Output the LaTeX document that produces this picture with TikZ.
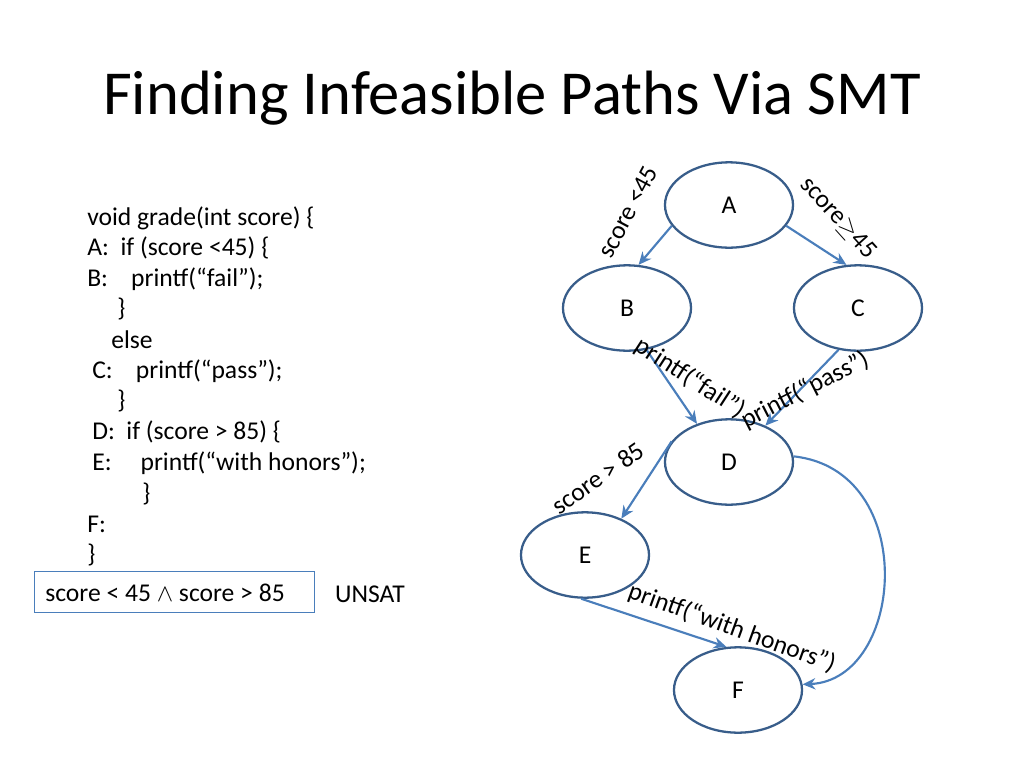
\documentclass[tikz,border=0pt]{standalone}
\usepackage{fontspec}
\setmainfont{Carlito}
\usetikzlibrary{shapes.geometric,arrows.meta}
\definecolor{eb}{HTML}{385D8A}
\definecolor{lb}{HTML}{4A7EBB}
\begin{document}
\begin{tikzpicture}[x=0.703pt,y=-0.703pt,
  st/.style={draw=eb,line width=1.6pt,ellipse,minimum width=90pt,minimum height=60pt,font=\fontsize{18}{20}\selectfont},
  ed/.style={draw=lb,line width=1.5pt,-{Stealth[length=9pt,width=8pt]}},
  lab/.style={font=\fontsize{18}{20}\selectfont,inner sep=1pt},
  code/.style={anchor=west,font=\fontsize{18}{20}\selectfont,inner sep=0pt}]
\useasboundingbox (0,0) rectangle (1024,768);
\node[font=\fontsize{44}{50}\selectfont] (title) at (512,98) {Finding Infeasible Paths Via SMT};
% code
\node[code] (l1) at (87,218) {void grade(int score) \{};
\node[code] (l2) at (87,248) {A:\ \ if (score <45) \{};
\node[code] (l3) at (87,279) {B:\ \ \ \ printf(“fail”);};
\node[code] (l4) at (117,309) {\}};
\node[code] (l5) at (111,340) {else};
\node[code] (l6) at (92,371) {C:\ \ \ \ printf(“pass”);};
\node[code] (l7) at (117,401) {\}};
\node[code] (l8) at (92,432) {D:\ \ if (score > 85) \{};
\node[code] (l9) at (92,463) {E:\ \ \ \ \ printf(“with honors”);};
\node[code] (l10) at (142,494) {\}};
\node[code] (l11) at (87,524) {F:};
\node[code] (l12) at (87,555) {\}};
\node[draw=lb,line width=0.8pt,minimum width=197pt,minimum height=29pt,anchor=west] (box) at (34,592) {};
\node[code] (boxt) at (45,593) {score < 45 $\wedge$ score > 85};
\node[lab] (unsat) at (370,594) {UNSAT};
% graph
\node[st] (A) at (729,205) {};
\node[lab] at (729,205) {A};
\node[st] (B) at (627,308) {};
\node[lab] at (627,308) {B};
\node[st] (C) at (858,308) {};
\node[lab] at (858,308) {C};
\node[st] (D) at (729,462) {};
\node[lab] at (729,462) {D};
\node[st] (E) at (585,555) {};
\node[lab] at (585,555) {E};
\node[st] (F) at (738,690) {};
\node[lab] at (738,690) {F};
\draw[ed] (A.200) -- (B.75);
\draw[ed] (A.-20) -- (C.105);
\draw[ed] (B.-65) -- (D.130);
\draw[ed] (C.-115) -- (D.45);
\draw[ed] (D.160) -- (E.45);
\draw[ed] (E.-95) -- (F.105);
\draw[ed] (D.5) .. controls (920,470) and (905,680) .. (F.5);
\node[lab,rotate=62] at (628,212) {score <45};
\node[lab,rotate=-48] at (838,218) {score$\geq$45};
\node[lab,rotate=-33] at (690,378) {printf(“fail”)};
\node[lab,rotate=27] at (805,390) {printf(“pass”)};
\node[lab,rotate=35] at (598,478) {score > 85};
\node[lab,rotate=-20] at (732,628) {printf(“with honors”)};
\end{tikzpicture}
\end{document}
